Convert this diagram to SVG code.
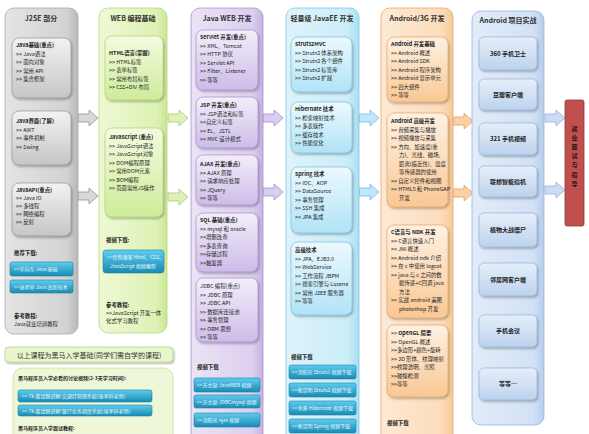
<svg xmlns="http://www.w3.org/2000/svg" width="589" height="434" viewBox="0 0 589 434">
<style>
text{font-family:"Noto Sans CJK SC","Liberation Sans",sans-serif;fill:#222;font-size:5.4px}
.h{font-size:7px;text-anchor:middle;font-weight:bold;fill:#333}
.b{font-weight:bold}
.c{text-anchor:middle}
.bt{fill:#e9f8ff;font-size:5px}
.btn{fill:url(#gBtn);stroke:#1b7fa3;stroke-width:0.6}
.pj{font-size:6px;font-weight:bold;text-anchor:middle;fill:#222}
.jv{font-size:6px;font-weight:bold;text-anchor:middle;fill:#2a1212}
</style>
<defs>
<filter id="sh" x="-10%" y="-10%" width="130%" height="130%"><feDropShadow dx="1" dy="1.5" stdDeviation="1" flood-color="#000" flood-opacity="0.3"/></filter>
<linearGradient id="gBtn" x1="0" y1="0" x2="0" y2="1"><stop offset="0" stop-color="#5fcdee"/><stop offset="1" stop-color="#1a8ab4"/></linearGradient>
<linearGradient id="g1o" x1="0" y1="0" x2="1" y2="0"><stop offset="0" stop-color="#e4e4e4"/><stop offset="0.85" stop-color="#d2d2d2"/><stop offset="1" stop-color="#b8b8b8"/></linearGradient>
<linearGradient id="g1i" x1="0" y1="0" x2="0" y2="1"><stop offset="0" stop-color="#f2f2f2"/><stop offset="1" stop-color="#c6c6c6"/></linearGradient>
<linearGradient id="g2o" x1="0" y1="0" x2="1" y2="0"><stop offset="0" stop-color="#eef9d4"/><stop offset="0.85" stop-color="#ddf2b4"/><stop offset="1" stop-color="#c9e692"/></linearGradient>
<linearGradient id="g2i" x1="0" y1="0" x2="0" y2="1"><stop offset="0" stop-color="#f3fbe0"/><stop offset="1" stop-color="#cfeb9a"/></linearGradient>
<linearGradient id="g3o" x1="0" y1="0" x2="1" y2="0"><stop offset="0" stop-color="#ebe3f5"/><stop offset="0.85" stop-color="#dccff0"/><stop offset="1" stop-color="#c5b2e3"/></linearGradient>
<linearGradient id="g3i" x1="0" y1="0" x2="0" y2="1"><stop offset="0" stop-color="#f3eefa"/><stop offset="1" stop-color="#cdbce8"/></linearGradient>
<linearGradient id="g4o" x1="0" y1="0" x2="1" y2="0"><stop offset="0" stop-color="#def3fb"/><stop offset="0.85" stop-color="#cbedf9"/><stop offset="1" stop-color="#a9def3"/></linearGradient>
<linearGradient id="g4i" x1="0" y1="0" x2="0" y2="1"><stop offset="0" stop-color="#ecf9fe"/><stop offset="1" stop-color="#b1e3f6"/></linearGradient>
<linearGradient id="g5o" x1="0" y1="0" x2="1" y2="0"><stop offset="0" stop-color="#fde9d5"/><stop offset="0.85" stop-color="#fcdcbb"/><stop offset="1" stop-color="#f8c795"/></linearGradient>
<linearGradient id="g5i" x1="0" y1="0" x2="0" y2="1"><stop offset="0" stop-color="#fef1e3"/><stop offset="1" stop-color="#f9c894"/></linearGradient>
<linearGradient id="g6o" x1="0" y1="0" x2="1" y2="0"><stop offset="0" stop-color="#e2ecf9"/><stop offset="0.85" stop-color="#d2e1f5"/><stop offset="1" stop-color="#b7cdec"/></linearGradient>
<linearGradient id="g6i" x1="0" y1="0" x2="0" y2="1"><stop offset="0" stop-color="#e6effa"/><stop offset="1" stop-color="#bdd2ee"/></linearGradient>
<path id="arr" d="M0,-4 H11 V-8 L20,0 L11,8 V4 H0 Z"/>
</defs>

<g id="connectors" stroke-width="0.7">
<use href="#arr" transform="translate(78,118)" fill="#d8d8d8" stroke="#8a8a8a"/>
<use href="#arr" transform="translate(78,196)" fill="#d8d8d8" stroke="#8a8a8a"/>
<use href="#arr" transform="translate(168,118)" fill="#dff1b8" stroke="#9cc45e"/>
<use href="#arr" transform="translate(168,197)" fill="#dff1b8" stroke="#9cc45e"/>
<use href="#arr" transform="translate(263,118)" fill="#dccdf0" stroke="#9a82c6"/>
<use href="#arr" transform="translate(263,192)" fill="#dccdf0" stroke="#9a82c6"/>
<use href="#arr" transform="translate(359,118)" fill="#bfe7f7" stroke="#6ab8dc"/>
<use href="#arr" transform="translate(359,192)" fill="#bfe7f7" stroke="#6ab8dc"/>
<use href="#arr" transform="translate(453,121)" fill="#fbd0a4" stroke="#e39a55"/>
<use href="#arr" transform="translate(453,193)" fill="#fbd0a4" stroke="#e39a55"/>
<use href="#arr" transform="translate(545,118)" fill="#cddcf2" stroke="#8aa9d6"/>
<use href="#arr" transform="translate(545,190)" fill="#cddcf2" stroke="#8aa9d6"/>
</g>

<g id="col1">
<rect x="5" y="8" width="73" height="326" rx="9" fill="url(#g1o)" stroke="#a8a8a8" stroke-width="0.8"/>
<text class="h" x="41" y="21">J2SE 部分</text>
<rect x="12" y="38" width="59" height="60" rx="7" fill="url(#g1i)" stroke="#8c8c8c" stroke-width="0.6" filter="url(#sh)"/>
<text class="b" x="16" y="47">Java基础(重点)</text>
<text x="16" y="55.5">&gt;&gt; Java语法</text>
<text x="16" y="64">&gt;&gt; 面向对象</text>
<text x="16" y="72.5">&gt;&gt; 常用 API</text>
<text x="16" y="81">&gt;&gt; 集合框架</text>
<rect x="12" y="111" width="59" height="54" rx="7" fill="url(#g1i)" stroke="#8c8c8c" stroke-width="0.6" filter="url(#sh)"/>
<text class="b" x="16" y="123">Java界面(了解)</text>
<text x="16" y="131.5">&gt;&gt; AWT</text>
<text x="16" y="140">&gt;&gt; 事件机制</text>
<text x="16" y="148.5">&gt;&gt; Swing</text>
<rect x="12" y="183" width="59" height="53" rx="7" fill="url(#g1i)" stroke="#8c8c8c" stroke-width="0.6" filter="url(#sh)"/>
<text class="b" x="16" y="192">JavaAPI(重点)</text>
<text x="16" y="200">&gt;&gt; Java IO</text>
<text x="16" y="208">&gt;&gt; 多线程</text>
<text x="16" y="216">&gt;&gt; 网络编程</text>
<text x="16" y="224">&gt;&gt; 反射</text>
<text class="b" x="14" y="255">推荐下载:</text>
<rect class="btn" x="10" y="262" width="63" height="14" rx="2"/>
<text class="bt" x="14" y="271">&gt;&gt;毕向东 Java 基础</text>
<rect class="btn" x="10" y="280" width="63" height="13" rx="2"/>
<text class="bt" x="14" y="288.5">&gt;&gt;张孝祥 Java 高新技术</text>
<text class="b" x="14" y="318">参考教程:</text>
<text x="14" y="326">Java就业培训教程</text>
</g>

<g id="col2">
<rect x="99" y="8" width="68" height="325" rx="9" fill="url(#g2o)" stroke="#b7d883" stroke-width="0.8"/>
<text class="h" x="133" y="21">WEB 编程基础</text>
<rect x="105" y="36" width="58" height="64" rx="7" fill="url(#g2i)" stroke="#a9cc70" stroke-width="0.6" filter="url(#sh)"/>
<text class="b" x="109" y="55">HTML语言(掌握)</text>
<text x="109" y="63.5">&gt;&gt; HTML标签</text>
<text x="109" y="72">&gt;&gt; 表单标签</text>
<text x="109" y="80.5">&gt;&gt; 常用布局标签</text>
<text x="109" y="89">&gt;&gt; CSS+DIV 布局</text>
<rect x="105" y="128" width="58" height="89" rx="7" fill="url(#g2i)" stroke="#a9cc70" stroke-width="0.6" filter="url(#sh)"/>
<text class="b" x="109" y="139">JavaScript (重点)</text>
<text x="109" y="147.5">&gt;&gt; JavaScript语法</text>
<text x="109" y="156">&gt;&gt; JavaScript对象</text>
<text x="109" y="164.5">&gt;&gt; DOM编程原理</text>
<text x="109" y="173">&gt;&gt; 常用DOM元素</text>
<text x="109" y="181.5">&gt;&gt; BOM编程</text>
<text x="109" y="190">&gt;&gt; 页面常用JS操作</text>
<text class="b" x="106" y="242">视频下载:</text>
<rect class="btn" x="103" y="250" width="61" height="23" rx="3"/>
<text class="bt" x="107" y="259">&gt;&gt;传智播客 Html、CSS、</text>
<text class="bt" x="110" y="268">JavaScript 视频教程</text>
<text class="b" x="106" y="307">参考教程:</text>
<text x="106" y="315">&gt;&gt;JavaScript 开发一体</text>
<text x="106" y="323">化式学习教程</text>
</g>

<g id="col3">
<rect x="191" y="8" width="72" height="436" rx="9" fill="url(#g3o)" stroke="#a992cf" stroke-width="0.8"/>
<text class="h" x="227" y="21">Java WEB 开发</text>
<rect x="196" y="30" width="62" height="60" rx="7" fill="url(#g3i)" stroke="#9c84c8" stroke-width="0.6" filter="url(#sh)"/>
<text class="b" x="200" y="39">Servlet 开发(重点)</text>
<text x="200" y="47.5">&gt;&gt; XML、Tomcat</text>
<text x="200" y="56">&gt;&gt; HTTP 协议</text>
<text x="200" y="64.5">&gt;&gt; Servlet API</text>
<text x="200" y="73">&gt;&gt; Filter、Listener</text>
<text x="200" y="81.5">&gt;&gt; 等等</text>
<rect x="196" y="97" width="62" height="51" rx="7" fill="url(#g3i)" stroke="#9c84c8" stroke-width="0.6" filter="url(#sh)"/>
<text class="b" x="200" y="107">JSP 开发(重点)</text>
<text x="200" y="115.5">&gt;&gt; JSP语法和标签</text>
<text x="200" y="124">&gt;&gt;自定义标签</text>
<text x="200" y="132.5">&gt;&gt; EL、JSTL</text>
<text x="200" y="141">&gt;&gt; MVC 设计模式</text>
<rect x="196" y="155" width="62" height="50" rx="7" fill="url(#g3i)" stroke="#9c84c8" stroke-width="0.6" filter="url(#sh)"/>
<text class="b" x="200" y="166">AJAX 开发(重点)</text>
<text x="200" y="174.5">&gt;&gt; AJAX 原理</text>
<text x="200" y="183">&gt;&gt; 请求响应处理</text>
<text x="200" y="191.5">&gt;&gt; JQuery</text>
<text x="200" y="200">&gt;&gt; 等等</text>
<rect x="196" y="213" width="62" height="59" rx="7" fill="url(#g3i)" stroke="#9c84c8" stroke-width="0.6" filter="url(#sh)"/>
<text class="b" x="200" y="222">SQL 基础(重点)</text>
<text x="200" y="230.5">&gt;&gt; mysql 和 oracle</text>
<text x="200" y="239">&gt;&gt;增删改查</text>
<text x="200" y="247.5">&gt;&gt;多表查询</text>
<text x="200" y="256">&gt;&gt;存储过程</text>
<text x="200" y="264.5">&gt;&gt;触发器</text>
<rect x="196" y="278" width="62" height="64" rx="7" fill="url(#g3i)" stroke="#9c84c8" stroke-width="0.6" filter="url(#sh)"/>
<text x="200" y="288">JDBC 编程(重点)</text>
<text x="200" y="296.5">&gt;&gt; JDBC 原理</text>
<text x="200" y="305">&gt;&gt; JDBC API</text>
<text x="200" y="313.5">&gt;&gt; 数据库连接池</text>
<text x="200" y="322">&gt;&gt; 事务管理</text>
<text x="200" y="330.5">&gt;&gt; ORM 思想</text>
<text x="200" y="339">&gt;&gt; 等等</text>
<text class="b" x="197" y="369">视频下载</text>
<rect class="btn" x="194" y="378" width="66" height="14" rx="2"/>
<text class="bt" x="197" y="387">&gt;&gt;方立勋 JavaWEB 视频</text>
<rect class="btn" x="194" y="395" width="66" height="13" rx="2"/>
<text class="bt" x="197" y="403.5">&gt;&gt;方立勋 JDBCmysql 视频</text>
<rect class="btn" x="194" y="413" width="66" height="14" rx="2"/>
<text class="bt" x="197" y="422">&gt;&gt;汤阳光 ajax 视频</text>
</g>

<g id="col4">
<rect x="286" y="8" width="73" height="436" rx="9" fill="url(#g4o)" stroke="#7ec7e6" stroke-width="0.8"/>
<text class="h" x="322" y="21">轻量级 JavaEE 开发</text>
<rect x="291" y="37" width="61" height="55" rx="7" fill="url(#g4i)" stroke="#6cb7d8" stroke-width="0.6" filter="url(#sh)"/>
<text class="b" x="295" y="46">Struts2MVC</text>
<text x="295" y="54.5">&gt;&gt; Struts2 体系架构</text>
<text x="295" y="63">&gt;&gt; Struts2 各个组件</text>
<text x="295" y="71.5">&gt;&gt; Struts2 标签库</text>
<text x="295" y="80">&gt;&gt; Struts2 扩展</text>
<rect x="291" y="102" width="61" height="51" rx="7" fill="url(#g4i)" stroke="#6cb7d8" stroke-width="0.6" filter="url(#sh)"/>
<text class="b" x="295" y="111">Hibernate 技术</text>
<text x="295" y="119.5">&gt;&gt; 检索映射技术</text>
<text x="295" y="128">&gt;&gt; 多表操作</text>
<text x="295" y="136.5">&gt;&gt; 缓存技术</text>
<text x="295" y="145">&gt;&gt; 性能优化</text>
<rect x="291" y="167" width="61" height="66" rx="7" fill="url(#g4i)" stroke="#6cb7d8" stroke-width="0.6" filter="url(#sh)"/>
<text class="b" x="295" y="176">Spring 技术</text>
<text x="295" y="184.5">&gt;&gt; IOC、AOP</text>
<text x="295" y="193">&gt;&gt; DataSource</text>
<text x="295" y="201.5">&gt;&gt; 事务管理</text>
<text x="295" y="210">&gt;&gt; SSH 集成</text>
<text x="295" y="218.5">&gt;&gt; JPA 集成</text>
<rect x="291" y="242" width="61" height="73" rx="7" fill="url(#g4i)" stroke="#6cb7d8" stroke-width="0.6" filter="url(#sh)"/>
<text class="b" x="295" y="252">高级技术</text>
<text x="295" y="260.5">&gt;&gt; JPA、EJB3.0</text>
<text x="295" y="269">&gt;&gt; WebService</text>
<text x="295" y="277.5">&gt;&gt; 工作流程 JBPM</text>
<text x="295" y="286">&gt;&gt; 搜索引擎与 Lucene</text>
<text x="295" y="294.5">&gt;&gt; 常用 J2EE 服务器</text>
<text x="295" y="303">&gt;&gt; 等等</text>
<text class="b" x="291" y="359">视频下载</text>
<rect class="btn" x="289" y="365" width="67" height="14" rx="2"/>
<text class="bt" x="292" y="374">&gt;&gt;汤阳光 Struts1 视频下载</text>
<rect class="btn" x="289" y="383" width="67" height="14" rx="2"/>
<text class="bt" x="292" y="392">&gt;&gt;黎活明 Struts2 视频下载</text>
<rect class="btn" x="289" y="401" width="67" height="14" rx="2"/>
<text class="bt" x="292" y="410">&gt;&gt;李勇 Hibernate 视频下载</text>
<rect class="btn" x="289" y="419" width="67" height="14" rx="2"/>
<text class="bt" x="292" y="428">&gt;&gt;黎活明 Spring 视频下载</text>
</g>

<g id="col5">
<rect x="381" y="8" width="72" height="436" rx="9" fill="url(#g5o)" stroke="#eaa868" stroke-width="0.8"/>
<text class="h" x="417" y="21">Android/3G 开发</text>
<rect x="387" y="37" width="61" height="65" rx="7" fill="url(#g5i)" stroke="#e29a55" stroke-width="0.6" filter="url(#sh)"/>
<text class="b" x="391" y="46">Android 开发基础</text>
<text x="391" y="54.5">&gt;&gt; Android 概述</text>
<text x="391" y="63">&gt;&gt; Android SDK</text>
<text x="391" y="71.5">&gt;&gt; Android 程序架构</text>
<text x="391" y="80">&gt;&gt; Android 显示单元</text>
<text x="391" y="88.5">&gt;&gt; 四大组件</text>
<text x="391" y="97">&gt;&gt; 等等</text>
<rect x="387" y="113" width="61" height="94" rx="7" fill="url(#g5i)" stroke="#e29a55" stroke-width="0.6" filter="url(#sh)"/>
<text class="b" x="391" y="123">Android 高级开发</text>
<text x="391" y="131.5">&gt;&gt; 音频采集与播放</text>
<text x="391" y="140">&gt;&gt; 视频播放与采集</text>
<text x="391" y="148.5">&gt;&gt; 方向、加速度(重</text>
<text x="399" y="157">力)、光线、磁场、</text>
<text x="399" y="165.5">距离(临近性)、温度</text>
<text x="399" y="174">等传感器的使用</text>
<text x="391" y="182.5">&gt;&gt; 自定义控件和视图</text>
<text x="391" y="191">&gt;&gt; HTML5 和 PhoneGAP</text>
<text x="399" y="199.5">开发</text>
<rect x="387" y="225" width="61" height="93" rx="7" fill="url(#g5i)" stroke="#e29a55" stroke-width="0.6" filter="url(#sh)"/>
<text class="b" x="391" y="234">C语言与 NDK 开发</text>
<text x="391" y="242.5">&gt;&gt; C语言快速入门</text>
<text x="391" y="251">&gt;&gt; JNI 概述</text>
<text x="391" y="259.5">&gt;&gt; Android ndk 介绍</text>
<text x="391" y="268">&gt;&gt; 在 c 中使用 logcat</text>
<text x="391" y="276.5">&gt;&gt; java 与 c 之间的数</text>
<text x="399" y="285">据传递+C回调 java</text>
<text x="399" y="293.5">方法</text>
<text x="391" y="302">&gt;&gt; 实战 android 美图</text>
<text x="399" y="310.5">photoshop 开发</text>
<rect x="387" y="325" width="61" height="72" rx="7" fill="url(#g5i)" stroke="#e29a55" stroke-width="0.6" filter="url(#sh)"/>
<text x="391" y="335">&gt;&gt; <tspan class="b">OpenGL 简要</tspan></text>
<text x="391" y="343.5">&gt;&gt; OpenGL 概述</text>
<text x="391" y="352">&gt;&gt;多边形+颜色+旋转</text>
<text x="391" y="360.5">&gt;&gt; 3D 形体、纹理映射</text>
<text x="391" y="369">&gt;&gt;纹理透明、光照</text>
<text x="391" y="377.5">&gt;&gt;碰撞检测</text>
<text x="391" y="386">&gt;&gt;等等</text>
<text class="b" x="387" y="425">视频下载</text>
</g>

<g id="col6">
<rect x="472" y="11" width="72" height="414" rx="9" fill="url(#g6o)" stroke="#95b4de" stroke-width="0.8"/>
<text class="h" x="508" y="23">Android 项目实战</text>
<g fill="url(#g6i)" stroke="#8aa9d6" stroke-width="0.6" filter="url(#sh)">
<rect x="479" y="37" width="58" height="33" rx="5"/>
<rect x="479" y="79" width="58" height="31" rx="5"/>
<rect x="479" y="123" width="58" height="32" rx="5"/>
<rect x="479" y="166" width="58" height="31" rx="5"/>
<rect x="479" y="213" width="58" height="34" rx="5"/>
<rect x="479" y="263" width="58" height="33" rx="5"/>
<rect x="479" y="315" width="58" height="32" rx="5"/>
<rect x="479" y="368" width="58" height="32" rx="5"/>
</g>
<text class="pj" x="508" y="56">360 手机卫士</text>
<text class="pj" x="508" y="97">豆瓣客户端</text>
<text class="pj" x="508" y="141">321 手机视频</text>
<text class="pj" x="508" y="184">联想智能验机</text>
<text class="pj" x="508" y="232">植物大战僵尸</text>
<text class="pj" x="508" y="282">邻居网客户端</text>
<text class="pj" x="508" y="333">手机会议</text>
<text class="pj" x="508" y="386">等等…</text>
</g>

<g id="job">
<rect x="565" y="100" width="19" height="126" rx="2" fill="#c0504d" stroke="#8c3836" stroke-width="0.8"/>
<text class="jv" x="574.5" y="131">就</text>
<text class="jv" x="574.5" y="140">业</text>
<text class="jv" x="574.5" y="149">面</text>
<text class="jv" x="574.5" y="158">试</text>
<text class="jv" x="574.5" y="167">与</text>
<text class="jv" x="574.5" y="177">指</text>
<text class="jv" x="574.5" y="186">导</text>
</g>

<g id="note">
<rect x="5" y="347" width="168" height="15" rx="4" fill="#e9f6cc" stroke="#b7d883" stroke-width="0.8" filter="url(#sh)"/>
<text x="89" y="357.5" class="c" style="font-size:7px;fill:#333">以上课程为黑马入学基础(同学们需自学的课程)</text>
</g>

<g id="entry">
<rect x="13" y="368" width="160" height="80" rx="10" fill="#eef8d8" stroke="#c4e09a" stroke-width="0.8"/>
<text class="b" x="18" y="380" style="font-size:5px">黑马程序员入学必看的讨论视频(2-3天学习时间):</text>
<rect class="btn" x="18" y="390" width="134" height="12" rx="2"/>
<text class="bt" x="22" y="398">&gt;&gt; 7k 面试题讲解:交通灯管理系统(张孝祥老师)</text>
<rect class="btn" x="18" y="405" width="134" height="11" rx="2"/>
<text class="bt" x="22" y="412.5">&gt;&gt; 7k 面试题讲解:银行业务调度系统(张孝祥老师)</text>
<text class="b" x="18" y="430" style="font-size:5px">黑马程序员入学面试教程:</text>
</g>
</svg>
